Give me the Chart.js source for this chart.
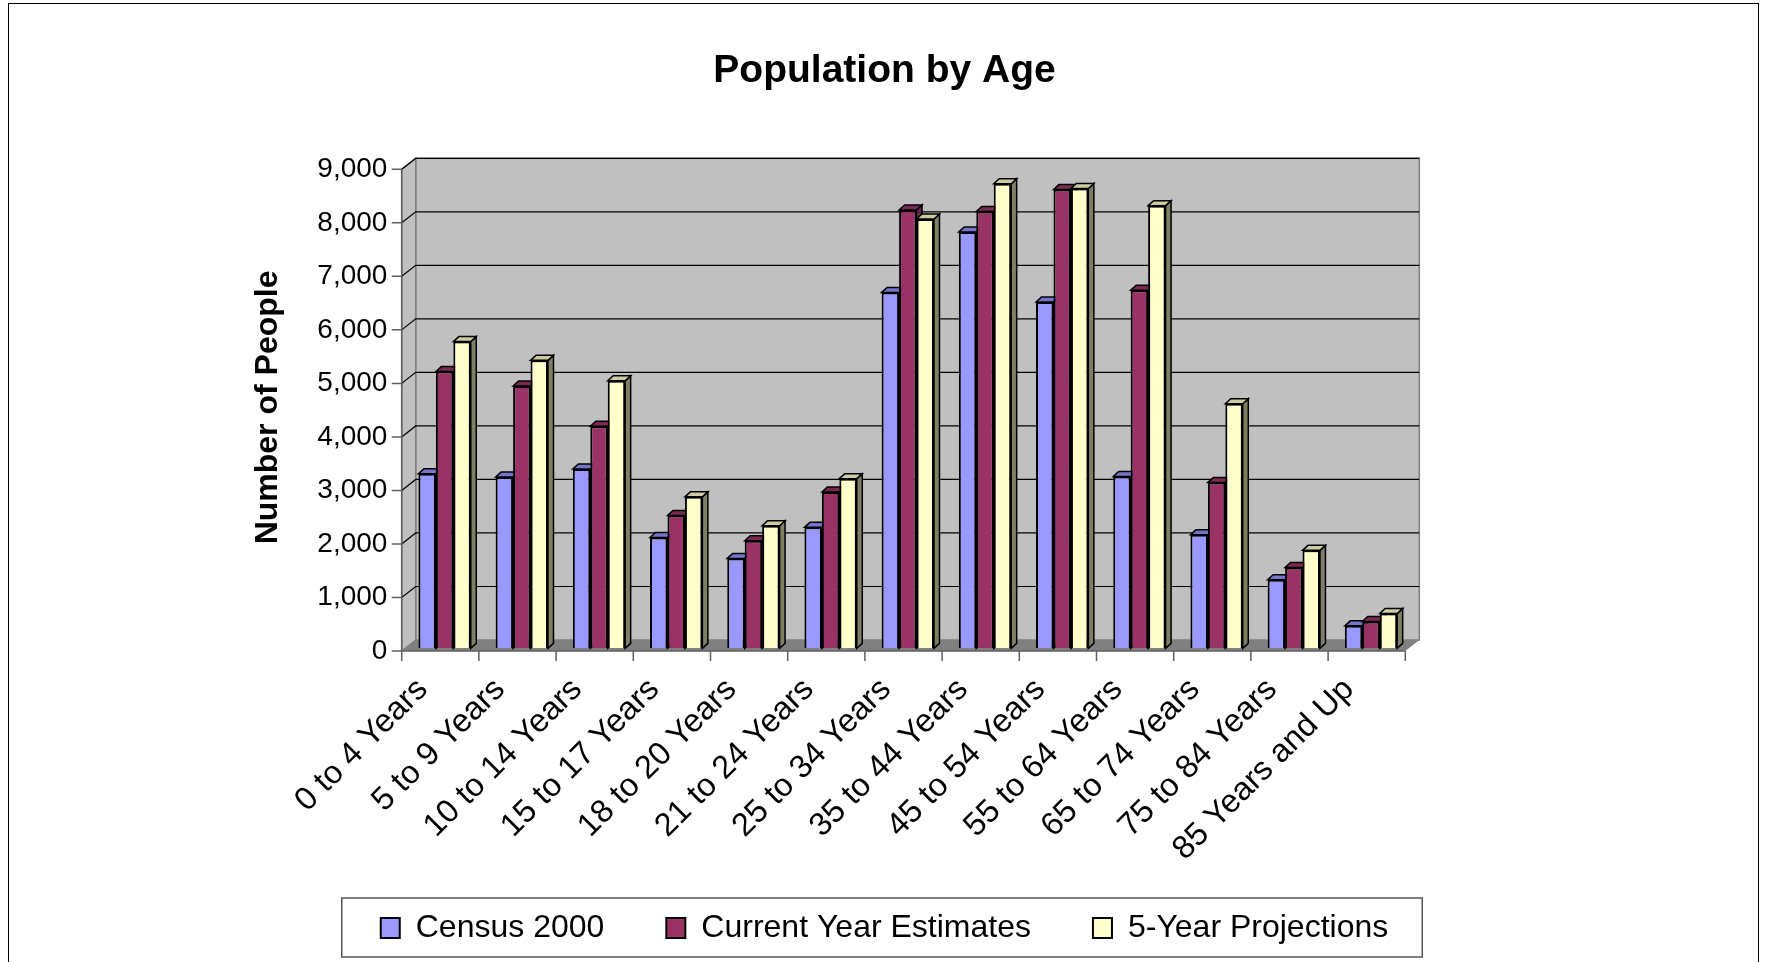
<!DOCTYPE html>
<html lang="en">
<head>
  <meta charset="UTF-8">
  <title>Population by Age</title>
  <script src="https://cdn.jsdelivr.net/npm/chart.js"></script>
  <style>
    html, body { margin: 0; padding: 0; background: #fff; overflow: hidden; }
    .wrap { position: relative; width: 1769px; height: 962px; }
    .frame { position: absolute; left: 8px; top: 3px; width: 1749px; height: 1000px; border: 1.5px solid #000; pointer-events: none; }
  </style>
</head>
<body>
  <div class="wrap">
    <canvas id="popChart"></canvas>
    <div class="frame"></div>
  </div>

  <script>
    const ageGroups = ['0 to 4 Years', '5 to 9 Years', '10 to 14 Years', '15 to 17 Years', '18 to 20 Years',
      '21 to 24 Years', '25 to 34 Years', '35 to 44 Years', '45 to 54 Years', '55 to 64 Years',
      '65 to 74 Years', '75 to 84 Years', '85 Years and Up'];
    const census2000 = [3260, 3200, 3350, 2070, 1680, 2260, 6650, 7780, 6470, 3210, 2120, 1280, 420];
    const currentYear = [5170, 4900, 4150, 2480, 2010, 2920, 8190, 8160, 8570, 6690, 3100, 1510, 500];
    const projections = [5730, 5380, 5000, 2830, 2290, 3170, 8020, 8680, 8590, 8270, 4570, 1830, 650];
    const yTicks = [0, 1000, 2000, 3000, 4000, 5000, 6000, 7000, 8000, 9000];

    const FONT = "'Liberation Sans', Arial, sans-serif";
    // 3D offsets relative to the plane the bars sit in
    const FRONT = { dx: -4.3, dy: 2.7 };
    const BACK = { dx: 9.7, dy: -8.3 };
    const DEPTH = { dx: 5.5, dy: -5 };

    const faceColors = [
      { top: '#7575cc', side: '#6b6bb2' },
      { top: '#7a2952', side: '#6b2447' },
      { top: '#cccca3', side: '#7f7f66' }
    ];

    const threeD = {
      id: 'threeD',
      beforeDatasetsDraw(chart) {
        const { ctx, chartArea: a, scales: { x, y } } = chart;
        const fl = a.left + FRONT.dx, fr = a.right + FRONT.dx;
        const fb = a.bottom + FRONT.dy, ft = a.top + FRONT.dy;
        const bl = a.left + BACK.dx, br = a.right + BACK.dx;
        const bb = a.bottom + BACK.dy, bt = a.top + BACK.dy;
        ctx.save();
        // back wall
        ctx.fillStyle = '#c0c0c0';
        ctx.fillRect(bl, bt, br - bl, bb - bt);
        ctx.strokeStyle = '#808080';
        ctx.lineWidth = 1.5;
        ctx.strokeRect(bl, bt, br - bl, bb - bt);
        // left wall
        ctx.beginPath();
        ctx.moveTo(fl, ft); ctx.lineTo(bl, bt); ctx.lineTo(bl, bb); ctx.lineTo(fl, fb); ctx.closePath();
        ctx.fillStyle = '#c0c0c0';
        ctx.fill();
        ctx.stroke();
        // gridlines
        ctx.strokeStyle = '#000';
        ctx.lineWidth = 1.2;
        yTicks.forEach(v => {
          if (v === 0) return;
          const py = y.getPixelForValue(v);
          ctx.beginPath();
          ctx.moveTo(fl, py + FRONT.dy);
          ctx.lineTo(bl, py + BACK.dy);
          ctx.lineTo(br, py + BACK.dy);
          ctx.stroke();
        });
        // floor
        ctx.beginPath();
        ctx.moveTo(fl, fb); ctx.lineTo(bl, bb); ctx.lineTo(br, bb); ctx.lineTo(fr, fb); ctx.closePath();
        ctx.fillStyle = '#808080';
        ctx.fill();
        // bar tops and sides
        ctx.lineWidth = 1.5;
        ctx.strokeStyle = '#000';
        const n = chart.data.labels.length;
        for (let i = 0; i < n; i++) {
          chart.data.datasets.forEach((ds, d) => {
            const bar = chart.getDatasetMeta(d).data[i];
            const half = bar.width / 2;
            const l = bar.x - half, r = bar.x + half, t = bar.y, b = bar.base;
            ctx.beginPath();
            ctx.moveTo(r, t); ctx.lineTo(r + DEPTH.dx, t + DEPTH.dy); ctx.lineTo(r + DEPTH.dx, b + DEPTH.dy); ctx.lineTo(r, b); ctx.closePath();
            ctx.fillStyle = faceColors[d].side;
            ctx.fill(); ctx.stroke();
            ctx.beginPath();
            ctx.moveTo(l, t); ctx.lineTo(l + DEPTH.dx, t + DEPTH.dy); ctx.lineTo(r + DEPTH.dx, t + DEPTH.dy); ctx.lineTo(r, t); ctx.closePath();
            ctx.fillStyle = faceColors[d].top;
            ctx.fill(); ctx.stroke();
          });
        }
        ctx.restore();
      },
      afterDatasetsDraw(chart) {
        const { ctx, chartArea: a, scales: { x, y } } = chart;
        const fl = a.left + FRONT.dx, fr = a.right + FRONT.dx, fb = a.bottom + FRONT.dy, ft = a.top + FRONT.dy;
        ctx.save();
        ctx.strokeStyle = '#606060';
        ctx.lineWidth = 1.5;
        ctx.beginPath();
        ctx.moveTo(fl, ft); ctx.lineTo(fl, fb); ctx.lineTo(fr, fb);
        yTicks.forEach(v => {
          const py = y.getPixelForValue(v) + FRONT.dy;
          ctx.moveTo(fl - 10, py); ctx.lineTo(fl, py);
        });
        const step = (a.right - a.left) / chart.data.labels.length;
        for (let i = 0; i <= chart.data.labels.length; i++) {
          const px = fl + i * step;
          ctx.moveTo(px, fb); ctx.lineTo(px, fb + 10);
        }
        ctx.stroke();
        // category labels, slanted at 45 degrees and allowed to run past the axis box
        ctx.fillStyle = '#000';
        ctx.font = '32.5px ' + FONT;
        ctx.textAlign = 'right';
        ctx.textBaseline = 'middle';
        chart.data.labels.forEach((lab, i) => {
          ctx.save();
          ctx.translate(x.getPixelForTick(i) - 22, a.bottom + 36);
          ctx.rotate(-Math.PI / 4);
          ctx.fillText(lab, 0, 0);
          ctx.restore();
        });
        ctx.restore();
      },
      afterDraw(chart) {
        // frame round the legend
        const boxes = chart.legend.legendHitBoxes;
        if (!boxes || !boxes.length) return;
        const first = boxes[0], last = boxes[boxes.length - 1];
        const cy = first.top + first.height / 2;
        const ctx = chart.ctx;
        ctx.save();
        ctx.strokeStyle = '#555';
        ctx.lineWidth = 1.5;
        ctx.strokeRect(first.left - 39, cy - 30, last.left + last.width - first.left + 73, 59);
        ctx.restore();
      }
    };

    new Chart(document.getElementById('popChart'), {
      type: 'bar',
      data: {
        labels: ageGroups,
        datasets: [
          { label: 'Census 2000', data: census2000, backgroundColor: '#9999ff', borderColor: '#000', borderWidth: 2 },
          { label: 'Current Year Estimates', data: currentYear, backgroundColor: '#993366', borderColor: '#000', borderWidth: 2 },
          { label: '5-Year Projections', data: projections, backgroundColor: '#ffffcc', borderColor: '#000', borderWidth: 2 }
        ]
      },
      options: {
        responsive: true,
        maintainAspectRatio: false,
        animation: false,
        devicePixelRatio: 1,
        layout: { padding: { left: 0, right: 0, top: 0, bottom: 8 } },
        datasets: { bar: { categoryPercentage: 0.678, barPercentage: 1.0 } },
        scales: {
          x: {
            grid: { display: false, drawTicks: false },
            border: { display: false },
            ticks: { display: false, autoSkip: false },
            afterFit(scale) { scale.height = 201.7; }
          },
          y: {
            min: 0, max: 9000,
            grid: { display: false, drawTicks: false },
            border: { display: false },
            ticks: {
              stepSize: 1000, color: '#000', font: { family: FONT, size: 28 },
              padding: 18.6, labelOffset: 2.7
            },
            title: {
              display: true, text: 'Number of People', color: '#000',
              font: { family: FONT, size: 32, weight: 'bold' },
              padding: { top: 249, bottom: 0 }
            },
            afterFit(scale) { scale.width = 406; }
          },
          // empty right-hand scale that keeps the plot's right edge in place
          spacer: {
            position: 'right',
            grid: { display: false, drawTicks: false },
            border: { display: false },
            ticks: { display: false },
            afterFit(scale) { scale.width = 359.4; }
          }
        },
        plugins: {
          title: {
            display: true, text: 'Population by Age', color: '#000',
            font: { family: FONT, size: 39, weight: 'bold' },
            padding: { top: 47.6, bottom: 72.2 }
          },
          legend: {
            position: 'bottom',
            maxHeight: 104,
            labels: {
              color: '#000', font: { family: FONT, size: 32 },
              boxWidth: 19, boxHeight: 20, padding: 62
            }
          },
          tooltip: { enabled: false }
        }
      },
      plugins: [threeD]
    });
  </script>
</body>
</html>
